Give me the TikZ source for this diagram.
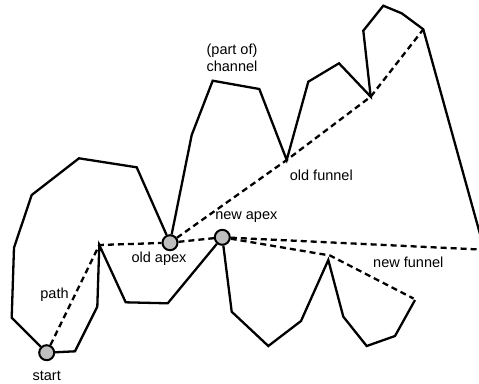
\documentclass[tikz,border=0pt]{standalone}
\usepackage{fontspec}
\setmainfont{Liberation Sans}
\begin{document}
\begin{tikzpicture}[x=1bp,y=-1bp,
  wall/.style={line width=2.3bp,line join=miter},
  funnel/.style={line width=2.3bp,dash pattern=on 6bp off 4bp},
  apexdot/.style={circle,draw,line width=2bp,fill=black!25,minimum size=15bp,inner sep=0pt},
  lbl/.style={font=\fontsize{14.5bp}{17bp}\selectfont,inner sep=0pt,align=center}]
\useasboundingbox (0,0) rectangle (479,383);
% apex / start nodes
\node[apexdot] (start) at (46.7,352.7) {};
\node[apexdot] (oldapex) at (170,242.7) {};
\node[apexdot] (newapex) at (222.3,237.3) {};
% upper wall vertices
\coordinate (u1) at (11.7,317.7);
\coordinate (u2) at (14,247.7);
\coordinate (u3) at (31.7,195);
\coordinate (u4) at (79,158.3);
\coordinate (u5) at (136.7,167.3);
\coordinate (u6) at (191.7,135);
\coordinate (u7) at (212.7,80.7);
\coordinate (u8) at (259.3,89);
\coordinate (oldfunnel) at (286.7,160);
\coordinate (u9) at (308.3,81.7);
\coordinate (u10) at (339,63.3);
\coordinate (u11) at (370.7,96.7);
\coordinate (u12) at (363.3,30.7);
\coordinate (u13) at (383.3,5.7);
\coordinate (u14) at (401.7,13.3);
\coordinate (u15) at (423.3,29.3);
\coordinate (u16) at (480,234);
% lower wall vertices
\coordinate (l1) at (75,351.3);
\coordinate (l2) at (97.3,306.7);
\coordinate (l3) at (99.3,245);
\coordinate (l4) at (125.7,302.3);
\coordinate (l5) at (167.7,303.3);
\coordinate (l6) at (231.7,311.7);
\coordinate (l7) at (268.3,346);
\coordinate (l8) at (301,321);
\coordinate (l9) at (328.3,260);
\coordinate (l10) at (343.3,316.7);
\coordinate (l11) at (366.7,346);
\coordinate (l12) at (395,336);
\coordinate (l13) at (415,300);
% funnel points
\coordinate (nf1) at (330,255.5);
\coordinate (nf2) at (413.5,298.5);
\coordinate (nf3) at (480,249.5);
% walls
\draw[wall] (start) -- (u1) -- (u2) -- (u3) -- (u4) -- (u5) -- (oldapex);
\draw[wall] (oldapex) -- (u6) -- (u7) -- (u8) -- (oldfunnel) -- (u9) -- (u10) -- (u11) -- (u12) -- (u13) -- (u14) -- (u15) -- (u16);
\draw[wall] (start) -- (l1) -- (l2) -- (l3) -- (l4) -- (l5) -- (newapex);
\draw[wall] (newapex) -- (l6) -- (l7) -- (l8) -- (l9) -- (l10) -- (l11) -- (l12) -- (l13);
% path and funnels
\draw[funnel] (start) -- (l3) -- (oldapex);
\draw[funnel] (oldapex) -- (newapex);
\draw[funnel] (oldapex) -- (oldfunnel) -- (u11) -- (u15);
\draw[funnel] (newapex) -- (nf1) -- (nf2);
\draw[funnel] (newapex) -- (nf3);
% labels
\node[lbl] (tchan) at (232,58) {(part of)\\channel};
\node[lbl] (told) at (321.3,175.5) {old funnel};
\node[lbl] (tnewapex) at (246.3,217.5) {new apex};
\node[lbl] (toldapex) at (159,258.5) {old apex};
\node[lbl] (tpath) at (54.5,294.5) {path};
\node[lbl] (tnewf) at (408.3,262) {new funnel};
\node[lbl] (tstart) at (46.7,376) {start};
\end{tikzpicture}
\end{document}
